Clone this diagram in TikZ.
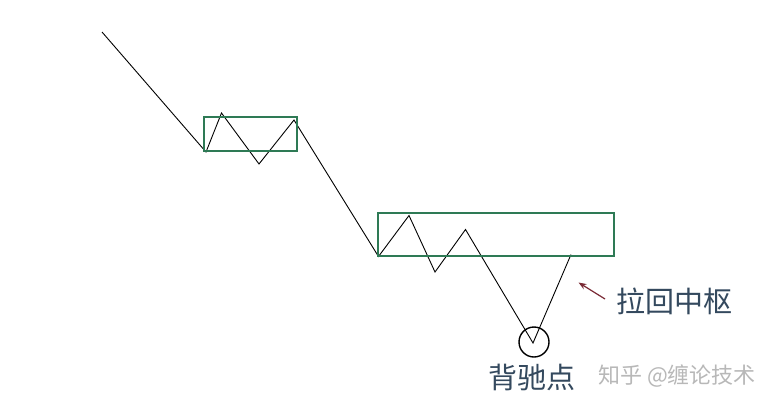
\documentclass[tikz,border=0pt]{standalone}
\usepackage{fontspec}
\usetikzlibrary{arrows.meta}
\newfontfamily\cjk{Noto Sans CJK SC}
\definecolor{boxgreen}{HTML}{2E7A55}
\definecolor{txtblue}{HTML}{34495E}
\definecolor{arrred}{HTML}{7A2A35}
\definecolor{wmgray}{HTML}{B8B8B8}
\begin{document}
\begin{tikzpicture}[x=1pt,y=-1pt,
  zline/.style={black,line width=0.9pt,line join=miter},
  zbox/.style={draw=boxgreen,line width=1.8pt},
  lbl/.style={font=\cjk\fontsize{29}{29}\selectfont,text=txtblue,inner sep=0pt},
  wm/.style={font=\cjk\fontsize{22}{22}\selectfont,text=wmgray,inner sep=0pt}]
\useasboundingbox (0,0) rectangle (783,407);
\fill[white] (0,0) rectangle (783,407);
% price path
\coordinate (p0) at (102,32);
\coordinate (p1) at (206,152);
\coordinate (p2) at (221.5,113);
\coordinate (p3) at (259,164);
\coordinate (p4) at (294,120);
\coordinate (p5) at (378.5,256.5);
\coordinate (p6) at (409,215.5);
\coordinate (p7) at (435,272);
\coordinate (p8) at (465.5,229.5);
\coordinate (p9) at (533,343);
\coordinate (p10) at (571,254.5);
\draw[zline] (p0)--(p1)--(p2)--(p3)--(p4)--(p5)--(p6)--(p7)--(p8)--(p9)--(p10);
% zhongshu boxes
\node[zbox,minimum width=93pt,minimum height=34pt,inner sep=0pt] (zs1) at (250.8,133.7) {};
\node[zbox,minimum width=236pt,minimum height=43pt,inner sep=0pt] (zs2) at (495.8,234.2) {};
% divergence circle
\node[draw=black,line width=1.4pt,circle,minimum size=30pt,inner sep=0pt] (bc) at (534,342) {};
% labels
\node[lbl] (lhz) at (674,301) {拉回中枢};
\node[lbl] (bcd) at (532,377) {背驰点};
\node[wm] (wmk) at (677,376) {知乎 @缠论技术};
% arrow
\coordinate (atip) at (578.5,282.5);
\coordinate (atail) at (605,299);
\draw[arrred,line width=1.2pt,-{Stealth[length=8pt,width=6pt]}] (atail) -- (atip);
\end{tikzpicture}
\end{document}
